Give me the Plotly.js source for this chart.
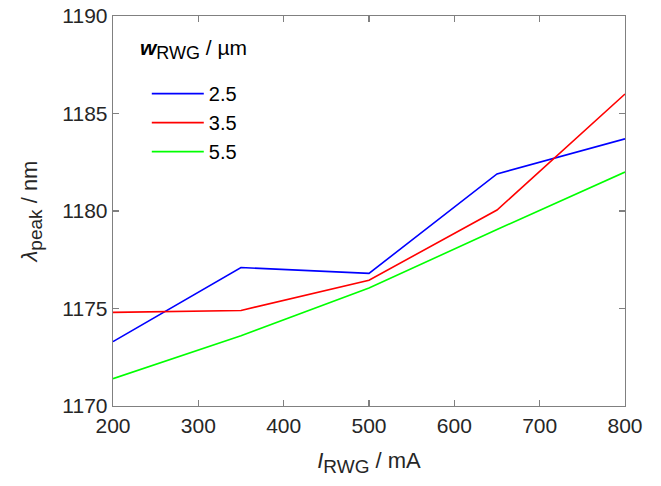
<!DOCTYPE html>
<html>
<head>
<meta charset="utf-8">
<script src="https://cdn.plot.ly/plotly-3.0.1.min.js"></script>
<style>html,body{margin:0;padding:0;background:#fff;}#chart{width:661px;height:486px;}</style>
</head>
<body>
<div id="chart"></div>
<script>
const current = [200, 350, 500, 650, 800];
const seriesNames = ['2.5', '3.5', '5.5'];
const peak_2_5 = [1173.3, 1177.1, 1176.8, 1181.9, 1183.7];
const peak_3_5 = [1174.8, 1174.9, 1176.45, 1180.05, 1186.0];
const peak_5_5 = [1171.4, 1173.6, 1176.05, 1179.05, 1182.0];
const xTicks = [200, 300, 400, 500, 600, 700, 800];
const yTicks = [1170, 1175, 1180, 1185, 1190];
const colors = ['#0000ff', '#ff0000', '#00ff00'];
const values = [peak_2_5, peak_3_5, peak_5_5];

const FONT = 'Liberation Sans, Arial, sans-serif';

const traces = values.map((v, i) => ({
  x: current, y: v, type: 'scatter', mode: 'lines', name: seriesNames[i],
  line: {color: colors[i], width: 1.6}
}));

const axisCommon = {
  showgrid: false, zeroline: false, showline: true, mirror: 'ticks',
  linecolor: '#808080', linewidth: 1.3, ticks: 'inside', ticklen: 6,
  tickcolor: '#808080', tickwidth: 1.3,
  tickfont: {family: FONT, size: 21, color: '#262626'}
};

const layout = {
  width: 661, height: 486,
  margin: {l: 113, r: 36, t: 16, b: 80},
  paper_bgcolor: '#fff', plot_bgcolor: '#fff',
  font: {family: FONT, color: '#262626'},
  xaxis: Object.assign({}, axisCommon, {
    range: [200, 800], tickvals: xTicks,
    title: {text: '<i>I</i><sub><span style="font-size:19px">RWG</span></sub> / mA', font: {size: 22, color: '#262626'}, standoff: 17}
  }),
  yaxis: Object.assign({}, axisCommon, {
    range: [1170, 1190], tickvals: yTicks,
    title: {text: '<i>λ</i><sub><span style="font-size:19px">peak</span></sub> / nm', font: {size: 22, color: '#262626'}, standoff: 18}
  }),
  showlegend: true,
  legend: {
    x: 0.066, y: 0.851, xanchor: 'left', yanchor: 'top',
    bgcolor: 'rgba(255,255,255,0)', borderwidth: 0,
    font: {family: FONT, size: 20, color: '#000'},
    itemwidth: 52
  },
  annotations: [{
    xref: 'paper', yref: 'paper', x: 0.049, y: 0.913, xanchor: 'left', yanchor: 'middle',
    showarrow: false,
    text: '<b><i>w</i></b><sub><span style="font-size:18px">RWG</span></sub> / µm',
    font: {family: FONT, size: 21, color: '#000'}
  }]
};

Plotly.newPlot('chart', traces, layout, {staticPlot: true, displayModeBar: false});
</script>
</body>
</html>
